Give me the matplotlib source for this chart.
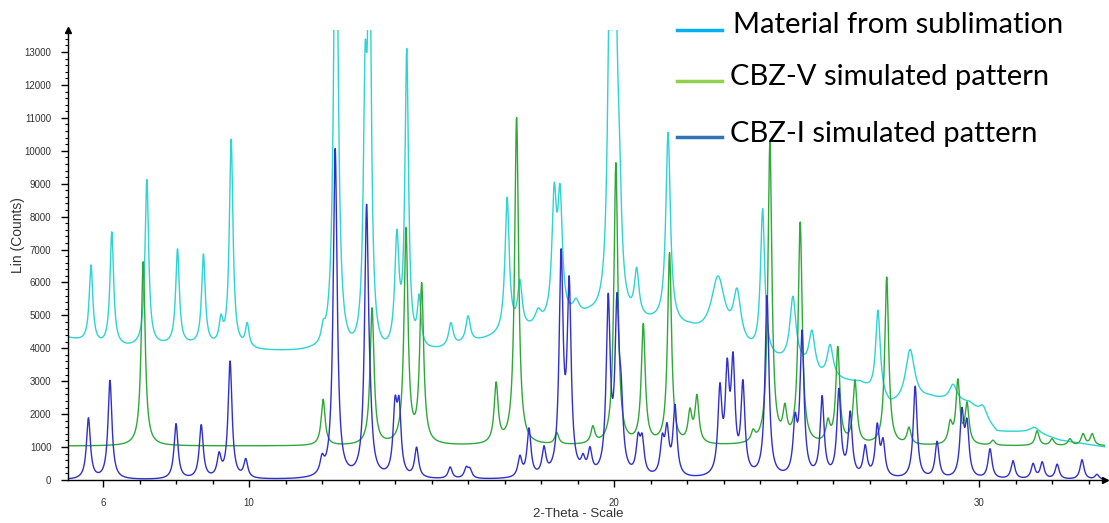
import numpy as np
import matplotlib.pyplot as plt
from matplotlib.ticker import MultipleLocator
from matplotlib.lines import Line2D

# XRD patterns, peak lists
# measured pattern (material from sublimation): position (2-theta), height above background, FWHM
sub_pos = [5.67, 6.24, 7.20, 8.04, 8.75, 9.23, 9.51, 9.95, 12.03, 12.38, 13.18, 13.30,
           14.05, 14.32, 14.66, 15.53, 16.00, 17.07, 17.42, 17.92, 18.36, 18.52, 18.96,
           19.88, 20.03, 20.14, 20.62, 21.48, 22.85, 23.37, 24.07, 24.90, 25.42, 25.92,
           27.23, 28.11, 29.29, 30.11, 31.53]
sub_height = [2350, 3450, 5050, 2900, 2750, 700, 6300, 700, 400, 16000, 7000, 12000,
              3300, 9000, 1450, 700, 800, 4100, 1400, 400, 3600, 3500, 400,
              9000, 9000, 3000, 1400, 5800, 1900, 1500, 4400, 2000, 1200, 1000,
              2600, 1600, 500, 350, 150]
sub_fwhm = [0.12, 0.12, 0.12, 0.12, 0.12, 0.12, 0.12, 0.12, 0.12, 0.14, 0.12, 0.12,
            0.14, 0.12, 0.12, 0.15, 0.15, 0.14, 0.15, 0.2, 0.15, 0.15, 0.2,
            0.14, 0.14, 0.15, 0.15, 0.15, 0.45, 0.25, 0.14, 0.2, 0.2, 0.2,
            0.15, 0.3, 0.25, 0.25, 0.3]
# amorphous background under the measured pattern
sub_bg_pos = [4.88, 5.95, 6.68, 7.56, 8.38, 10.30, 11.67, 12.77, 13.59, 15.23, 16.60,
              17.70, 18.79, 19.34, 20.44, 21.12, 22.08, 22.49, 23.73, 24.27, 25.10,
              25.64, 26.74, 27.56, 28.66, 29.75, 30.49, 31.48, 32.22, 33.45]
sub_bg = [4350, 4050, 4000, 4050, 4050, 3900, 3850, 3650, 3650, 3900, 4250,
          4500, 4800, 4900, 4700, 4700, 4500, 4300, 3800, 3600, 3400,
          3050, 2900, 2200, 2450, 2300, 1450, 1450, 1200, 1000]

# CBZ-V simulated pattern
cbz5_pos = [7.10, 12.03, 13.37, 14.30, 14.73, 16.77, 17.33, 18.43, 19.42, 20.05, 20.80,
            21.52, 22.08, 22.27, 23.81, 24.27, 24.68, 25.10, 25.86, 26.13, 26.60,
            27.47, 28.08, 29.21, 29.42, 29.67, 30.38, 31.59, 32.00, 32.49, 32.85, 33.10]
cbz5_height = [5600, 1400, 4150, 6500, 4800, 1800, 9950, 350, 500, 8550, 3600,
               5800, 900, 1400, 300, 9150, 900, 6700, 600, 2900, 1900,
               5100, 500, 600, 1900, 1200, 150, 450, 200, 200, 350, 350]
cbz5_offset = 1030

# CBZ-I simulated pattern
cbz1_pos = [5.60, 6.19, 8.00, 8.69, 9.18, 9.48, 9.91, 12.00, 12.36, 13.22, 13.32,
            14.00, 14.11, 14.59, 15.51, 15.95, 16.05, 17.42, 17.67, 18.08, 18.55,
            18.77, 19.15, 19.34, 19.84, 20.08, 20.19, 20.66, 20.77, 21.32, 21.45,
            21.67, 22.90, 23.10, 23.26, 23.53, 24.19, 24.96, 25.15, 25.70, 26.16,
            26.47, 26.88, 27.21, 27.37, 28.25, 28.85, 29.53, 29.67, 30.30, 30.93,
            31.48, 31.73, 32.14, 32.82, 33.23]
cbz1_height = [1850, 3000, 1680, 1620, 650, 3550, 550, 450, 10000, 8050, 800,
               1950, 1950, 900, 350, 300, 250, 600, 1450, 800, 6500,
               5600, 400, 700, 5200, 4800, 1800, 1000, 1000, 1000, 1300,
               2100, 2500, 2900, 3200, 2700, 5500, 1500, 4300, 2400, 2600,
               1900, 900, 1500, 1000, 2800, 1100, 1900, 1500, 900, 550,
               450, 500, 450, 600, 150]
sim_fwhm = 0.13

legend_labels = ['Material from sublimation', 'CBZ-V simulated pattern', 'CBZ-I simulated pattern']


def lorentz_sum(x, pos, height, fwhm):
    fwhm = np.broadcast_to(fwhm, len(pos))
    y = np.zeros_like(x)
    for p, h, w in zip(pos, height, fwhm):
        g = w / 2
        y += h * g**2 / ((x - p)**2 + g**2)
    return y


x = np.linspace(5.04, 33.6, 6000)
y_sub = np.interp(x, sub_bg_pos, sub_bg) + lorentz_sum(x, sub_pos, sub_height, sub_fwhm)
y_v = cbz5_offset + lorentz_sum(x, cbz5_pos, cbz5_height, sim_fwhm)
y_i = lorentz_sum(x, cbz1_pos, cbz1_height, sim_fwhm)

plt.rcParams['font.family'] = ['Liberation Sans', 'DejaVu Sans']

W, H = 1109, 523
fig = plt.figure(figsize=(W / 100, H / 100), dpi=100)
ax = fig.add_axes([68 / W, 43 / H, (1105 - 68) / W, 450 / H])

ax.plot(x, y_sub, color='#2ed3d3', lw=1.0)
ax.plot(x, y_v, color='#2fa83a', lw=1.0)
ax.plot(x, y_i, color='#3030cc', lw=1.0)

ax.set_xlim(5.04, 33.45)
ax.set_ylim(0, 13670)

for s in ['top', 'right']:
    ax.spines[s].set_visible(False)
for s in ['left', 'bottom']:
    ax.spines[s].set_linewidth(1.0)

ax.set_xticks([6, 10, 20, 30])
ax.xaxis.set_minor_locator(MultipleLocator(1))
ax.set_yticks(np.arange(0, 14000, 1000))
ax.yaxis.set_minor_locator(MultipleLocator(200))
ax.tick_params(axis='x', which='major', length=5, width=1, pad=8, labelsize=7, labelcolor='#333333')
ax.tick_params(axis='x', which='minor', length=3, width=1)
ax.tick_params(axis='y', which='major', length=5, width=1, pad=7, labelsize=7, labelcolor='#333333')
ax.tick_params(axis='y', which='minor', length=2.5, width=0.8)

# arrow heads at the end of the axes
ax.plot(0, 1, marker='^', ms=5, color='black', transform=ax.transAxes, clip_on=False)
ax.plot(1, 0, marker='>', ms=5, color='black', transform=ax.transAxes, clip_on=False)

fig.text(18 / W, 1 - 235 / H, 'Lin (Counts)', rotation=90, ha='center', va='center',
         fontsize=10, color='#333333')
fig.text(578 / W, 1 - 514 / H, '2-Theta - Scale', ha='center', va='center',
         fontsize=9.5, color='#333333')

# legend drawn by hand, as in the picture
leg_colors = ['#00b0f0', '#92d050', '#2e75b6']
leg_line_y = [30, 81, 137]
leg_text_x = [733, 730, 730]
leg_text_y = [33, 85, 142]
for lab, c, ly, tx, ty in zip(legend_labels, leg_colors, leg_line_y, leg_text_x, leg_text_y):
    fig.add_artist(Line2D([677 / W, 722 / W], [1 - ly / H] * 2, color=c, lw=2.5,
                          transform=fig.transFigure))
    fig.text(tx / W, 1 - ty / H, lab, fontsize=21, family='Lato', va='baseline', color='black')

fig.savefig('out.png', dpi=100)
